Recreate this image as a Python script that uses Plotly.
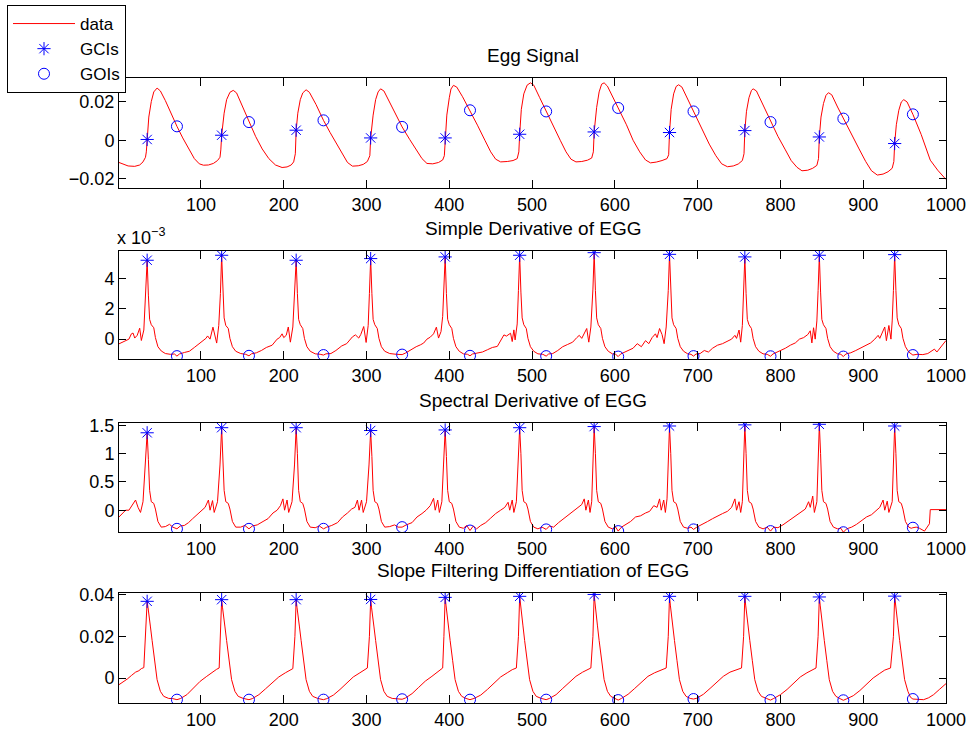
import plotly.graph_objects as go

# ---------------- data ----------------
gci_x = [35, 125, 215, 305, 395, 485, 575, 666, 757, 847, 938]
goi_x = [71, 158, 248, 343, 425, 517, 604, 695, 788, 876, 960]

egg_gci_y = [0.0004, 0.0026, 0.0052, 0.0012, 0.0012, 0.0031, 0.0043, 0.0040, 0.0050, 0.0017, -0.0017]
egg_goi_y = [0.0072, 0.0094, 0.0103, 0.0069, 0.0155, 0.0149, 0.0167, 0.0149, 0.0094, 0.0112, 0.0134]

sd_gci_y = [5.2, 5.53, 5.2, 5.31, 5.42, 5.53, 5.7, 5.59, 5.42, 5.53, 5.57]          # x 1e-3
sd_goi_y = [-1.12, -1.1, -1.05, -1.02, -1.1, -1.12, -1.15, -1.12, -1.13, -1.15, -1.05]

sp_gci_y = [1.37, 1.46, 1.46, 1.41, 1.42, 1.46, 1.48, 1.49, 1.51, 1.52, 1.49]
sp_goi_y = [-0.33, -0.33, -0.33, -0.30, -0.36, -0.34, -0.37, -0.34, -0.37, -0.39, -0.31]

sf_gci_y = [0.0368, 0.0376, 0.0376, 0.0377, 0.0387, 0.0392, 0.0401, 0.0392, 0.0392, 0.0389, 0.0393]
sf_goi_y = [-0.0104, -0.0104, -0.0104, -0.0102, -0.0104, -0.0104, -0.0106, -0.0101, -0.0106, -0.0107, -0.0101]

egg_pts = [
    (1, -0.0115), (6, -0.0125), (12, -0.0133), (20, -0.0135), (26, -0.0128), (30, -0.0112), (33, -0.0088), (34, -0.006),
    (35, 0.0004), (37, 0.012), (40, 0.020), (43, 0.025), (47, 0.027), (51, 0.0255), (57, 0.0205), (64, 0.0137), (71, 0.0072),
    (78, 0.0012), (85, -0.0045), (92, -0.0095), (98, -0.0122), (103, -0.0129), (109, -0.0128), (115, -0.012), (120, -0.0105), (123, -0.0088), (124, -0.005),
    (125, 0.0026), (128, 0.014), (131, 0.021), (135, 0.0248), (139, 0.0258), (143, 0.0245), (150, 0.0178), (158, 0.0094),
    (166, 0.002), (174, -0.0045), (182, -0.0095), (190, -0.0128), (198, -0.0141), (204, -0.0138), (209, -0.0128), (212, -0.0112), (214, -0.007),
    (215, 0.0052), (217, 0.014), (220, 0.021), (223, 0.0245), (227, 0.0261), (231, 0.0248), (239, 0.0185), (248, 0.0103),
    (256, 0.004), (264, -0.002), (271, -0.0075), (277, -0.0115), (283, -0.0134), (290, -0.0132), (296, -0.0125), (301, -0.011), (304, -0.008),
    (305, 0.0012), (308, 0.013), (311, 0.021), (314, 0.025), (317, 0.0266), (321, 0.0255), (331, 0.0168), (343, 0.0069),
    (352, 0.0005), (360, -0.005), (367, -0.0095), (373, -0.012), (380, -0.0122), (387, -0.0115), (392, -0.0102), (394, -0.008),
    (395, 0.0012), (397, 0.013), (400, 0.022), (402, 0.0265), (405, 0.0284), (409, 0.0275), (416, 0.0225), (425, 0.0155),
    (434, 0.0078), (443, 0.0), (450, -0.006), (456, -0.0098), (462, -0.0112), (470, -0.011), (477, -0.0105), (482, -0.0095), (484, -0.006),
    (485, 0.0031), (487, 0.016), (490, 0.024), (494, 0.0285), (498, 0.0297), (502, 0.0285), (509, 0.0222), (517, 0.0149),
    (526, 0.007), (534, 0.0), (541, -0.006), (547, -0.0098), (553, -0.0112), (560, -0.011), (567, -0.0103), (572, -0.0092), (574, -0.006),
    (575, 0.0043), (578, 0.017), (581, 0.025), (584, 0.029), (587, 0.0297), (591, 0.028), (597, 0.0225), (604, 0.0167),
    (614, 0.008), (622, 0.0), (630, -0.006), (637, -0.0102), (643, -0.0117), (650, -0.0113), (657, -0.0105), (663, -0.0095), (665, -0.0075),
    (666, 0.004), (668, 0.016), (671, 0.024), (674, 0.0278), (677, 0.0287), (681, 0.0275), (688, 0.0212), (695, 0.0149),
    (705, 0.006), (714, -0.002), (722, -0.008), (729, -0.0122), (736, -0.0137), (743, -0.0133), (749, -0.0123), (754, -0.0105), (756, -0.007),
    (757, 0.005), (759, 0.015), (762, 0.022), (765, 0.0258), (767, 0.0266), (771, 0.0255), (779, 0.0182), (788, 0.0094),
    (797, 0.002), (806, -0.005), (813, -0.0105), (820, -0.014), (826, -0.0158), (833, -0.0155), (839, -0.0145), (844, -0.013), (846, -0.0095),
    (847, 0.0017), (849, 0.012), (852, 0.019), (855, 0.0232), (858, 0.0246), (862, 0.0235), (869, 0.0172), (876, 0.0112),
    (886, 0.003), (895, -0.0045), (903, -0.011), (910, -0.0158), (917, -0.018), (924, -0.0175), (930, -0.0163), (935, -0.0145), (937, -0.011),
    (938, -0.0017), (940, 0.008), (943, 0.0155), (946, 0.0198), (949, 0.021), (953, 0.0198), (957, 0.0165), (960, 0.0134),
    (970, 0.003), (981, -0.0103), (990, -0.0155), (995, -0.018), (1000, -0.0203),
]

sd_pts = [  # simple derivative, in units of 1e-3
    (1, -0.31), (5, -0.22), (9, -0.1), (13, 0.0), (16, 0.35), (18, 0.4), (20, 0.07), (23, 0.25), (26, 0.72), (28, -0.09), (31, 0.6), (33, 2.8),
    (35, 5.2), (36.5, 2.9), (38, 1.3), (40, 0.95), (43, 0.75), (45, 0.1), (48, -0.5), (52, -0.78), (57, -0.95), (63, -1.0), (68, -0.98), (71, -1.12),
    (74, -0.98), (80, -0.88), (86, -0.8), (92, -0.55), (98, -0.3), (103, -0.1), (106, 0.05), (108, 0.21), (111, 0.0), (114.5, 0.79), (117, 0.28), (119, -0.26), (121.5, 0.9), (123.5, 3.0),
    (125, 5.53), (126.5, 3.1), (128, 1.4), (130, 0.9), (133, 0.7), (135, 0.05), (138, -0.5), (142, -0.8), (148, -0.95), (154, -1.0), (158, -1.1),
    (161, -0.97), (167, -0.9), (173, -0.75), (179, -0.55), (186, -0.4), (192, 0.0), (195, 0.1), (198, 0.35), (200, 0.1), (203, 0.25), (205.5, 0.8), (208, -0.2), (211, 0.8), (213, 3.0),
    (215, 5.2), (216.5, 3.0), (218, 1.3), (220, 0.95), (223, 0.7), (225, 0.05), (228, -0.5), (232, -0.8), (238, -0.97), (244, -1.0), (248, -1.05),
    (251, -0.97), (257, -0.95), (263, -0.75), (270, -0.45), (276, -0.3), (280, 0.0), (283, 0.15), (286.6, 0.28), (290.6, 0.07), (293, 0.3), (296.6, 0.83), (299.5, -0.22), (302, 0.9), (303.5, 3.0),
    (305, 5.31), (306.5, 3.0), (308, 1.3), (310, 0.95), (313, 0.7), (315, 0.05), (318, -0.5), (322, -0.8), (328, -0.95), (336, -1.0), (343, -1.02),
    (347, -0.92), (353, -0.7), (360, -0.5), (365, -0.38), (369, -0.26), (373, 0.0), (377, 0.13), (381, 0.35), (384.4, 0.79), (387, 0.07), (390, 0.5), (392, 1.5), (393.5, 3.2),
    (395, 5.42), (396.5, 3.0), (398, 1.3), (400, 0.95), (403, 0.7), (405, 0.05), (408, -0.5), (412, -0.8), (417, -0.97), (422, -1.0), (425, -1.1),
    (428, -0.98), (434, -0.92), (440, -0.85), (446, -0.7), (452, -0.55), (458, -0.48), (462, -0.1), (466, 0.28), (469, 0.2), (474, 0.39), (476, -0.16), (478, 0.61), (479.5, -0.05), (482, 1.0), (483.5, 3.2),
    (485, 5.53), (486.5, 3.1), (488, 1.4), (490, 0.95), (493, 0.7), (495, 0.05), (498, -0.5), (502, -0.8), (507, -0.97), (513, -1.0), (517, -1.12),
    (520, -0.98), (525, -0.95), (531, -0.75), (537, -0.5), (543, -0.35), (549, -0.2), (554, 0.1), (557, 0.25), (560, 0.05), (563, 0.35), (566, 0.7), (568.5, -0.2), (571, 0.8), (573.5, 3.3),
    (575, 5.7), (576.5, 3.2), (578, 1.4), (580, 0.95), (583, 0.7), (585, 0.05), (588, -0.5), (592, -0.8), (597, -0.97), (601, -1.0), (604, -1.15),
    (607, -0.98), (612, -0.85), (617, -0.7), (622, -0.6), (627, -0.3), (632, -0.5), (637, -0.1), (641, -0.3), (645, 0.1), (649, 0.35), (651, 0.1), (654, 0.7), (657, 0.3), (659.5, -0.3), (662, 0.8), (664.5, 3.2),
    (666, 5.59), (667.5, 3.1), (669, 1.4), (671, 0.95), (674, 0.7), (676, 0.05), (679, -0.5), (683, -0.8), (688, -0.97), (692, -1.0), (695, -1.12),
    (698, -0.98), (703, -0.95), (708, -0.75), (713, -0.85), (718, -0.6), (724, -0.4), (730, -0.3), (736, -0.15), (741, 0.0), (745, 0.25), (747, 0.05), (750, 0.6), (752, -0.2), (754, 0.9), (755.5, 3.0),
    (757, 5.42), (758.5, 3.0), (760, 1.3), (762, 0.95), (765, 0.7), (767, 0.05), (770, -0.5), (774, -0.8), (779, -0.97), (784, -1.0), (788, -1.13),
    (791, -0.98), (796, -0.85), (801, -0.75), (806, -0.6), (812, -0.4), (818, -0.25), (823, 0.0), (828, 0.1), (833, 0.3), (836, 0.55), (838, -0.25), (840, 0.75), (842, 0.0), (844, 1.2), (845.5, 3.2),
    (847, 5.53), (848.5, 3.1), (850, 1.3), (852, 0.95), (855, 0.7), (857, 0.05), (860, -0.5), (864, -0.8), (869, -0.97), (873, -1.0), (876, -1.15),
    (879, -0.98), (885, -0.9), (891, -0.75), (897, -0.6), (903, -0.45), (909, -0.25), (914, 0.0), (918, 0.25), (920, 0.05), (923, 0.4), (926, 0.8), (928, -0.1), (931, 0.9), (933.5, 0.0), (935, 1.2), (936.5, 3.2),
    (938, 5.57), (939.5, 3.2), (941, 1.4), (943, 0.95), (946, 0.7), (948, 0.05), (951, -0.5), (955, -0.85), (958, -0.95), (960, -1.05),
    (965, -1.0), (972, -1.02), (978, -0.95), (983, -0.75), (986, -0.66), (989, -0.85), (994, -0.5), (1000, -0.09),
]

sp_pts = [  # spectral derivative
    (1, -0.12), (5, -0.05), (9, 0.0), (13, 0.0), (17, 0.08), (21, 0.18), (24, 0.05), (27, -0.04), (30, 0.15), (33, 0.8),
    (35, 1.37), (36.5, 0.9), (38, 0.35), (40, 0.15), (43, 0.12), (45, 0.02), (48, -0.2), (52, -0.3), (57, -0.29), (62, -0.25), (66, -0.3), (71, -0.33),
    (75, -0.28), (80, -0.27), (85, -0.22), (90, -0.15), (95, -0.08), (101, 0.0), (105, 0.05), (109, 0.18), (111, 0.0), (114, 0.17), (116, -0.04), (120, 0.15), (123, 0.8),
    (125, 1.46), (126.5, 1.0), (128, 0.35), (130, 0.15), (133, 0.12), (135, 0.02), (138, -0.2), (142, -0.3), (148, -0.3), (153, -0.27), (158, -0.33),
    (162, -0.28), (168, -0.26), (175, -0.2), (181, -0.15), (187, -0.05), (192, 0.0), (196, 0.08), (199, 0.2), (201, 0.0), (204, 0.18), (206, -0.04), (210, 0.15), (213, 0.8),
    (215, 1.46), (216.5, 1.0), (218, 0.35), (220, 0.15), (223, 0.12), (225, 0.02), (228, -0.2), (232, -0.3), (238, -0.31), (243, -0.28), (248, -0.33),
    (252, -0.3), (258, -0.27), (265, -0.22), (271, -0.12), (277, -0.05), (282, 0.02), (286, 0.05), (289, 0.18), (291, 0.0), (294, 0.18), (296, -0.04), (300, 0.15), (303, 0.8),
    (305, 1.41), (306.5, 0.95), (308, 0.35), (310, 0.15), (313, 0.12), (315, 0.02), (318, -0.2), (322, -0.3), (328, -0.29), (334, -0.26), (338, -0.3), (343, -0.30),
    (348, -0.26), (355, -0.22), (361, -0.12), (367, -0.06), (372, 0.0), (377, 0.08), (381, 0.21), (383, 0.0), (386, 0.18), (388, -0.04), (391, 0.15), (393, 0.8),
    (395, 1.42), (396.5, 0.95), (398, 0.35), (400, 0.15), (403, 0.12), (405, 0.02), (408, -0.2), (412, -0.3), (417, -0.32), (421, -0.27), (425, -0.36),
    (429, -0.28), (433, -0.33), (438, -0.27), (444, -0.22), (450, -0.14), (456, -0.06), (462, 0.0), (467, 0.05), (471, 0.14), (473, 0.0), (476, 0.18), (478, -0.04), (481, 0.15), (483, 0.8),
    (485, 1.46), (486.5, 1.0), (488, 0.35), (490, 0.15), (493, 0.12), (495, 0.02), (498, -0.2), (502, -0.3), (507, -0.33), (512, -0.3), (517, -0.34),
    (521, -0.28), (526, -0.3), (532, -0.22), (538, -0.15), (544, -0.08), (550, -0.02), (555, 0.05), (560, 0.1), (563, 0.2), (565, 0.0), (568, 0.18), (570, -0.04), (572, 0.15), (573.5, 0.8),
    (575, 1.48), (576.5, 1.0), (578, 0.35), (580, 0.15), (583, 0.12), (585, 0.02), (588, -0.2), (592, -0.3), (597, -0.33), (601, -0.3), (604, -0.37),
    (608, -0.3), (613, -0.25), (619, -0.2), (625, -0.12), (631, -0.1), (637, -0.05), (642, -0.02), (647, 0.08), (651, 0.05), (654, 0.2), (656, 0.0), (659, 0.18), (661, -0.04), (663, 0.2), (664.5, 0.8),
    (666, 1.49), (667.5, 1.0), (669, 0.35), (671, 0.15), (674, 0.12), (676, 0.02), (679, -0.2), (683, -0.3), (688, -0.32), (692, -0.3), (695, -0.34),
    (699, -0.3), (705, -0.26), (712, -0.2), (718, -0.15), (724, -0.1), (730, -0.06), (736, -0.02), (741, 0.05), (745, 0.2), (747, 0.0), (750, 0.15), (752, -0.04), (754, 0.15), (755.5, 0.8),
    (757, 1.51), (758.5, 1.0), (760, 0.35), (762, 0.15), (765, 0.12), (767, 0.02), (770, -0.2), (774, -0.3), (779, -0.33), (784, -0.3), (788, -0.37),
    (792, -0.3), (797, -0.31), (803, -0.26), (809, -0.2), (815, -0.14), (821, -0.08), (826, -0.03), (830, 0.02), (834, 0.15), (836, 0.05), (839, 0.25), (841, -0.04), (844, 0.15), (845.5, 0.8),
    (847, 1.52), (848.5, 1.0), (850, 0.35), (852, 0.15), (855, 0.12), (857, 0.02), (860, -0.2), (864, -0.3), (869, -0.33), (873, -0.32), (876, -0.39),
    (880, -0.33), (886, -0.3), (892, -0.25), (898, -0.18), (904, -0.12), (910, -0.08), (915, -0.02), (920, 0.05), (924, 0.18), (926, 0.0), (929, 0.16), (931, -0.04), (935, 0.15), (936.5, 0.8),
    (938, 1.49), (939.5, 1.0), (941, 0.35), (943, 0.15), (946, 0.12), (948, 0.02), (951, -0.2), (955, -0.3), (958, -0.32), (960, -0.31),
    (964, -0.3), (968, -0.32), (974, -0.37), (980, -0.24), (981, 0.01), (1000, 0.01),
]

sf_pts = [  # slope filtering differentiation
    (1, -0.0032), (6, -0.002), (11, -0.0005), (16, 0.0012), (21, 0.0028), (25, 0.0035), (28, 0.0045), (31, 0.005), (33, 0.02),
    (35, 0.0368), (36, 0.034), (37, 0.030), (39, 0.0245), (41, 0.018), (44, 0.0085), (47, -0.0008), (51, -0.0064), (55, -0.0088), (61, -0.0098), (66, -0.0099), (71, -0.0104),
    (75, -0.0099), (83, -0.008), (91, -0.0048), (99, -0.0016), (107, 0.0008), (115, 0.0032), (119, 0.0042), (122, 0.0048), (123.5, 0.02),
    (125, 0.0376), (126, 0.034), (127, 0.030), (129, 0.0245), (131, 0.018), (134, 0.0085), (137, -0.0008), (141, -0.0064), (145, -0.0088), (151, -0.0098), (155, -0.01), (158, -0.0104),
    (162, -0.0099), (170, -0.008), (178, -0.0052), (186, -0.0022), (194, 0.0005), (202, 0.0025), (207, 0.0038), (211, 0.0045), (213.5, 0.02),
    (215, 0.0376), (216, 0.034), (217, 0.030), (219, 0.0245), (221, 0.018), (224, 0.0085), (227, -0.0008), (231, -0.0064), (235, -0.0088), (241, -0.0098), (245, -0.01), (248, -0.0104),
    (252, -0.0099), (260, -0.0082), (268, -0.0055), (276, -0.0025), (284, 0.0005), (292, 0.0025), (297, 0.0038), (301, 0.0048), (303.5, 0.02),
    (305, 0.0377), (306, 0.034), (307, 0.030), (309, 0.0245), (311, 0.018), (314, 0.0085), (317, -0.0008), (321, -0.0064), (325, -0.0088), (331, -0.0098), (338, -0.01), (343, -0.0102),
    (347, -0.0096), (355, -0.0075), (363, -0.0045), (371, -0.0015), (379, 0.0008), (385, 0.0028), (389, 0.0042), (392, 0.0048), (393.5, 0.02),
    (395, 0.0387), (396, 0.035), (397, 0.031), (399, 0.025), (401, 0.018), (404, 0.0085), (407, -0.0008), (411, -0.0064), (415, -0.0088), (420, -0.0098), (425, -0.0104),
    (430, -0.0098), (438, -0.0082), (446, -0.0055), (454, -0.0025), (462, 0.0005), (470, 0.0025), (476, 0.004), (481, 0.0048), (483.5, 0.02),
    (485, 0.0392), (486, 0.035), (487, 0.031), (489, 0.025), (491, 0.018), (494, 0.0085), (497, -0.0008), (501, -0.0064), (505, -0.0088), (511, -0.0098), (517, -0.0104),
    (521, -0.0098), (529, -0.008), (537, -0.005), (545, -0.002), (553, 0.0008), (561, 0.0028), (567, 0.004), (571, 0.0048), (573.5, 0.02),
    (575, 0.0401), (576, 0.036), (577, 0.031), (579, 0.025), (581, 0.018), (584, 0.0085), (587, -0.0008), (591, -0.0064), (595, -0.0088), (600, -0.0098), (604, -0.0106),
    (608, -0.0098), (616, -0.0078), (624, -0.005), (632, -0.002), (640, 0.0008), (648, 0.0025), (656, 0.0038), (662, 0.0048), (664.5, 0.02),
    (666, 0.0392), (667, 0.035), (668, 0.031), (670, 0.025), (672, 0.018), (675, 0.0085), (678, -0.0008), (682, -0.0064), (686, -0.0088), (691, -0.0098), (695, -0.0101),
    (699, -0.0097), (707, -0.0078), (715, -0.005), (723, -0.002), (731, 0.0008), (739, 0.0028), (747, 0.004), (753, 0.0048), (755.5, 0.02),
    (757, 0.0392), (758, 0.035), (759, 0.031), (761, 0.025), (763, 0.018), (766, 0.0085), (769, -0.0008), (773, -0.0064), (777, -0.0088), (783, -0.0098), (788, -0.0106),
    (792, -0.0098), (800, -0.008), (808, -0.0055), (816, -0.0025), (824, 0.0005), (832, 0.0025), (838, 0.0038), (843, 0.0048), (845.5, 0.02),
    (847, 0.0389), (848, 0.035), (849, 0.031), (851, 0.025), (853, 0.018), (856, 0.0085), (859, -0.0008), (863, -0.0064), (867, -0.0088), (872, -0.0099), (876, -0.0107),
    (880, -0.01), (888, -0.0085), (896, -0.006), (904, -0.003), (912, 0.0), (920, 0.0022), (926, 0.0038), (933, 0.0048), (936.5, 0.02),
    (938, 0.0393), (939, 0.035), (940, 0.031), (942, 0.025), (944, 0.018), (947, 0.0085), (950, -0.0008), (954, -0.0064), (957, -0.0092), (960, -0.0101),
    (966, -0.0102), (973, -0.0104), (979, -0.0095), (985, -0.008), (992, -0.0055), (1000, -0.0027),
]

titles = ["Egg Signal", "Simple Derivative of EGG", "Spectral Derivative of EGG",
          "Slope Filtering Differentiation of EGG"]
x_ticks = [100, 200, 300, 400, 500, 600, 700, 800, 900, 1000]
y_ticks = [[-0.02, 0, 0.02], [0, 2, 4], [0, 0.5, 1, 1.5], [0, 0.02, 0.04]]
y_tick_text = [["\u22120.02", "0", "0.02"], ["0", "2", "4"], ["0", "0.5", "1", "1.5"], ["0", "0.02", "0.04"]]
y_ranges = [[-0.0247, 0.0322], [-1.31, 5.81], [-0.386, 1.543], [-0.012, 0.0408]]
x_range = [1, 1000]

series = [(egg_pts, egg_gci_y, egg_goi_y), (sd_pts, sd_gci_y, sd_goi_y),
          (sp_pts, sp_gci_y, sp_goi_y), (sf_pts, sf_gci_y, sf_goi_y)]

# ---------------- layout geometry ----------------
W, H = 970, 731
ML, MR, MT, MB = 119, 24, 78, 28
PH = H - MT - MB
panel_px = [(78, 188), (251, 359), (423, 532), (593, 703)]  # (top, bottom) in pixels
FONT = "Liberation Sans, Arial, Helvetica, sans-serif"
RED = "#ff0000"
BLUE = "#0000ff"

fig = go.Figure()
layout = dict(
    width=W, height=H,
    margin=dict(l=ML, r=MR, t=MT, b=MB, pad=0, autoexpand=False),
    paper_bgcolor="white", plot_bgcolor="white",
    font=dict(family=FONT, size=18, color="black"),
    showlegend=True,
    legend=dict(
        x=(7 - ML) / (W - ML - MR), y=(H - MB - 5) / PH, xanchor="left", yanchor="top",
        bgcolor="white", bordercolor="black", borderwidth=1,
        font=dict(family=FONT, size=17, color="black"),
        itemwidth=62, tracegroupgap=0,
    ),
    annotations=[],
)

for i, ((pts, gy, oy), title) in enumerate(zip(series, titles)):
    n = "" if i == 0 else str(i + 1)
    xa, ya = "x" + n, "y" + n
    top, bot = panel_px[i]
    dom = [(H - MB - bot) / PH, (H - MB - top) / PH]
    lx = [p[0] for p in pts]
    ly = [p[1] for p in pts]
    fig.add_trace(go.Scatter(x=lx, y=ly, mode="lines", name="data",
                             line=dict(color=RED, width=1), xaxis=xa, yaxis=ya,
                             showlegend=(i == 0), legendrank=1))
    fig.add_trace(go.Scatter(x=gci_x, y=gy, mode="markers", name="GCIs",
                             marker=dict(symbol="asterisk-open", size=11, color=BLUE,
                                         line=dict(color=BLUE, width=1)),
                             xaxis=xa, yaxis=ya, showlegend=(i == 0), legendrank=2))
    fig.add_trace(go.Scatter(x=goi_x, y=oy, mode="markers", name="GOIs",
                             marker=dict(symbol="circle-open", size=11, color=BLUE,
                                         line=dict(color=BLUE, width=1)),
                             xaxis=xa, yaxis=ya, showlegend=(i == 0), legendrank=3))
    axis_common = dict(showline=True, linecolor="black", linewidth=1, mirror="ticks",
                       ticks="inside", tickcolor="black", tickwidth=1,
                       showgrid=False, zeroline=False, automargin=False,
                       tickfont=dict(family=FONT, size=18, color="black"))
    layout["xaxis" + n] = dict(axis_common, domain=[0, 1], range=x_range, anchor=ya,
                               tickmode="array", tickvals=x_ticks, ticklen=8)
    layout["yaxis" + n] = dict(axis_common, domain=dom, range=y_ranges[i], anchor=xa,
                               tickmode="array", tickvals=y_ticks[i], ticktext=y_tick_text[i],
                               ticklen=7)
    layout["annotations"].append(dict(
        text=title, x=0.5, y=dom[1], xref="paper", yref="paper",
        xanchor="center", yanchor="bottom", yshift=10, showarrow=False,
        font=dict(family=FONT, size=19, color="black")))
    if i == 1:
        layout["annotations"].append(dict(
            text="x 10<sup>\u22123</sup>", x=0, y=dom[1], xref="paper", yref="paper",
            xanchor="left", yanchor="bottom", yshift=1, xshift=-4, showarrow=False,
            font=dict(family=FONT, size=18, color="black")))

fig.update_layout(**layout)
fig.write_html("out.html")
